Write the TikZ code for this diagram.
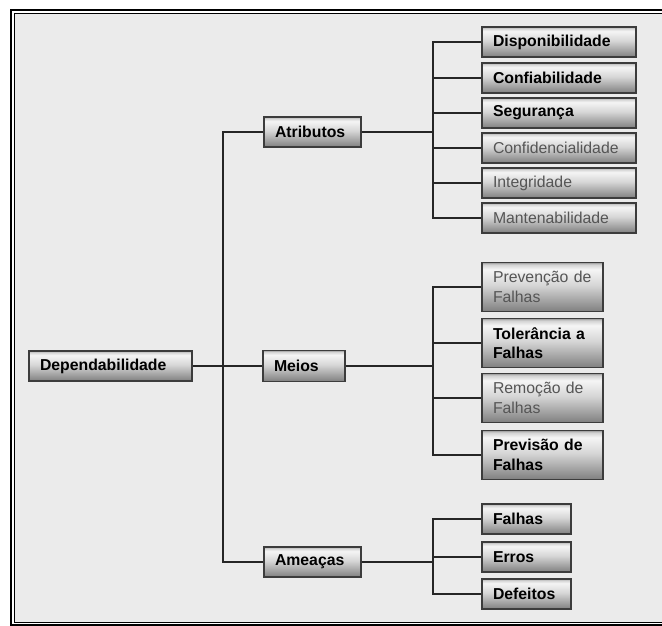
\documentclass[tikz,border=0pt]{standalone}
\usepackage{fontspec}
\setmainfont{Liberation Sans}

\definecolor{panel}{RGB}{235,235,235}
\definecolor{edge}{RGB}{60,60,60}
\definecolor{softtext}{RGB}{85,85,85}

% bevelled grey fill of the boxes: dark rim on top, light band, darker toward the bottom
\pgfdeclareverticalshading{bevel}{100bp}{%
  color(0bp)=(black!50);
  color(25bp)=(black!50);
  color(52bp)=(black!16);
  color(68bp)=(black!4);
  color(73bp)=(black!18);
  color(75bp)=(black!40);
  color(100bp)=(black!40)}

\tikzset{
  box/.style={draw=edge, line width=1.3pt, shading=bevel, rectangle,
    inner xsep=11pt, inner ysep=0pt, align=left,
    font=\fontsize{15.8}{19.5}\selectfont, anchor=center},
  strong/.style={font=\fontsize{15.8}{19.5}\selectfont\bfseries, text=black},
  soft/.style={text=softtext},
  link/.style={draw=black!85, line width=2pt},
  wide/.style={minimum width=154pt, minimum height=30pt, text width=132pt},
  mid/.style={minimum width=121pt, minimum height=49pt, text width=99pt},
  narrow/.style={minimum width=89pt, minimum height=30pt, text width=67pt},
}

\begin{document}
\begin{tikzpicture}[x=1pt, y=-1pt]
  \useasboundingbox (0,0) rectangle (662,626);
  \fill[white] (0,0) rectangle (662,626);
  \fill[panel] (15,14) rectangle (662,622);
  % double frame (open on the right)
  \draw[line width=2pt] (662,10) -- (11,10) -- (11,624.8) -- (662,624.8);
  \draw[line width=0.9pt] (662,13.5) -- (14.5,13.5) -- (14.5,622.6) -- (662,622.6);

  % root and first level
  \node[box, strong, minimum width=163pt, minimum height=30pt, text width=141pt] (dep) at (110.5,366) {Dependabilidade};
  \node[box, strong, minimum width=97pt, minimum height=30pt, text width=75pt] (atr) at (312.5,132) {Atributos};
  \node[box, strong, minimum width=82pt, minimum height=31pt, text width=60pt] (mei) at (304,366) {Meios};
  \node[box, strong, minimum width=97pt, minimum height=30pt, text width=75pt] (ame) at (312.5,562) {Ameaças};

  % attributes
  \node[box, strong, wide] (a1) at (559,42) {Disponibilidade};
  \node[box, strong, wide] (a2) at (559,78) {Confiabilidade};
  \node[box, strong, wide] (a3) at (559,113) {Segurança};
  \node[box, soft, wide] (a4) at (559,148) {Confidencialidade};
  \node[box, soft, wide] (a5) at (559,183) {Integridade};
  \node[box, soft, wide] (a6) at (559,218) {Mantenabilidade};

  % means
  \node[box, soft, mid] (m1) at (542.5,287) {Prevenção de\\Falhas};
  \node[box, strong, mid] (m2) at (542.5,343) {Tolerância a\\Falhas};
  \node[box, soft, mid] (m3) at (542.5,398) {Remoção de\\Falhas};
  \node[box, strong, mid] (m4) at (542.5,455) {Previsão de\\Falhas};

  % threats
  \node[box, strong, narrow] (t1) at (526.5,519) {Falhas};
  \node[box, strong, narrow] (t2) at (526.5,557) {Erros};
  \node[box, strong, narrow] (t3) at (526.5,594) {Defeitos};

  % junction points of the brackets
  \coordinate (jt) at (223,366);
  \coordinate (ja) at (433,132);
  \coordinate (jm) at (433,366);
  \coordinate (jh) at (433,562);

  % connectors
  \draw[link] (dep.east) -- (mei.west);
  \draw[link] (jt) |- (atr.west);
  \draw[link] (jt) |- (ame.west);

  \draw[link] (atr.east) -- (ja);
  \foreach \c in {a1,a2,a3,a4,a5,a6} \draw[link] (ja) |- (\c.west);

  \draw[link] (mei.east) -- (jm);
  \foreach \c in {m1,m2,m3,m4} \draw[link] (jm) |- (\c.west);

  \draw[link] (ame.east) -- (jh);
  \foreach \c in {t1,t2,t3} \draw[link] (jh) |- (\c.west);
\end{tikzpicture}
\end{document}
